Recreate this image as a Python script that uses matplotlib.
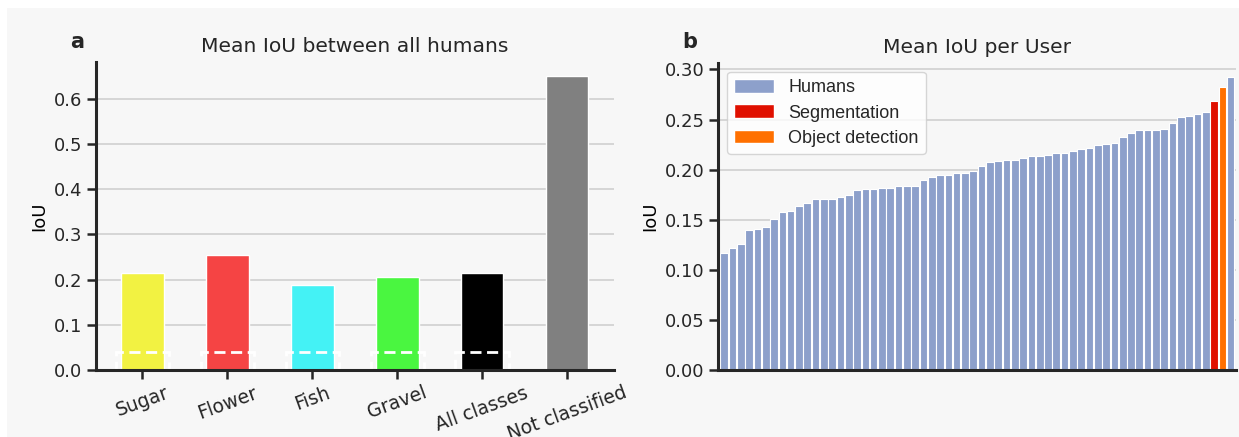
import numpy as np
import matplotlib
matplotlib.use('Agg')
import matplotlib.pyplot as plt
from matplotlib.patches import Patch, Rectangle

# panel a: mean IoU between all humans
classes = ['Sugar', 'Flower', 'Fish', 'Gravel', 'All classes', 'Not classified']
class_iou = [0.215, 0.255, 0.189, 0.205, 0.215, 0.650]
baseline_iou = [0.039, 0.039, 0.039, 0.039, 0.039]
class_colors = ['#f2f242', '#f54444', '#44f2f5', '#4af640', '#000000', '#808080']

# panel b: mean IoU per user
humans_iou = [0.117, 0.122, 0.126, 0.140, 0.141, 0.143, 0.151, 0.158, 0.159, 0.164,
              0.167, 0.171, 0.171, 0.171, 0.173, 0.175, 0.180, 0.181, 0.181, 0.182,
              0.182, 0.184, 0.184, 0.184, 0.190, 0.193, 0.195, 0.195, 0.197, 0.197,
              0.199, 0.204, 0.208, 0.209, 0.210, 0.210, 0.212, 0.214, 0.214, 0.215,
              0.217, 0.217, 0.219, 0.221, 0.222, 0.225, 0.226, 0.227, 0.233, 0.237,
              0.240, 0.240, 0.240, 0.241, 0.247, 0.253, 0.254, 0.255, 0.257, 0.292]
segmentation_iou = 0.268
detection_iou = 0.282

user_colors = {'Humans': '#8da0cb', 'Segmentation': '#e01000', 'Object detection': '#ff7000'}

BG = '#f7f7f7'
DARK = '#262626'

plt.rcParams['font.family'] = 'DejaVu Sans'
plt.rcParams['axes.edgecolor'] = DARK
plt.rcParams['text.color'] = DARK
plt.rcParams['xtick.color'] = DARK
plt.rcParams['ytick.color'] = DARK

fig = plt.figure(figsize=(12.39, 4.37), dpi=100, facecolor='white')
fig.patches.append(Rectangle((7 / 1239, 0), 1, (437 - 8) / 437, transform=fig.transFigure,
                             facecolor=BG, edgecolor='none', zorder=-10))

ax1 = fig.add_axes([0.0772, 0.1533, 0.4183, 0.7055])
ax2 = fig.add_axes([0.5795, 0.1533, 0.4181, 0.7030])


def style(ax):
    ax.set_facecolor(BG)
    for s in ['top', 'right']:
        ax.spines[s].set_visible(False)
    for s in ['left', 'bottom']:
        ax.spines[s].set_linewidth(2.2)
    ax.yaxis.grid(True, color='#cccccc', linewidth=1.1)
    ax.set_axisbelow(True)
    ax.tick_params(axis='both', labelsize=13, length=6.5, width=1.8, pad=3)


# ---- a ----
style(ax1)
x = np.arange(len(classes))
ax1.bar(x, class_iou, width=0.5, color=class_colors, edgecolor='white', linewidth=1)
ax1.bar(x[:len(baseline_iou)], baseline_iou, width=0.63, fill=False, edgecolor='white',
        linestyle=(0, (4, 2)), linewidth=2)
ax1.set_xlim(-0.55, 5.55)
ax1.set_xticks(x)
ax1.set_xticklabels(classes, rotation=20, ha='center', fontsize=13.5)
ax1.set_yticks([0.0, 0.1, 0.2, 0.3, 0.4, 0.5, 0.6])
ax1.set_ylabel('IoU', fontsize=13)
ax1.set_title('Mean IoU between all humans', fontsize=14.6, pad=7)
fig.text(77 / 1239, 1 - 42 / 437, 'a', fontsize=15, fontweight='bold', ha='center', va='center')

# ---- b ----
style(ax2)
users_iou = np.array(humans_iou + [segmentation_iou, detection_iou])
users_kind = ['Humans'] * len(humans_iou) + ['Segmentation', 'Object detection']
order = np.argsort(users_iou, kind='stable')
bar_colors = [user_colors[users_kind[i]] for i in order]
xb = np.arange(len(users_iou))
ax2.bar(xb, users_iou[order], width=0.92, color=bar_colors, edgecolor='white', linewidth=0.8)
ax2.set_xlim(-0.75, len(users_iou) - 0.35)
ax2.set_xticks([])
ax2.set_yticks([0.0, 0.05, 0.10, 0.15, 0.20, 0.25, 0.30])
ax2.set_yticklabels(['%.2f' % v for v in [0.0, 0.05, 0.10, 0.15, 0.20, 0.25, 0.30]])
ax2.set_ylabel('IoU', fontsize=13)
ax2.set_title('Mean IoU per User', fontsize=14.6, pad=7)
handles = [Patch(facecolor=c, edgecolor='white', label=k) for k, c in user_colors.items()]
ax2.legend(handles=handles, loc='upper left', prop={'family': 'Liberation Sans', 'size': 13},
           handlelength=2.2, handleheight=0.8, handletextpad=0.8, labelspacing=0.45)
fig.text(690 / 1239, 1 - 42 / 437, 'b', fontsize=15, fontweight='bold', ha='center', va='center')

fig.savefig('out.png', dpi=100, facecolor='white')
